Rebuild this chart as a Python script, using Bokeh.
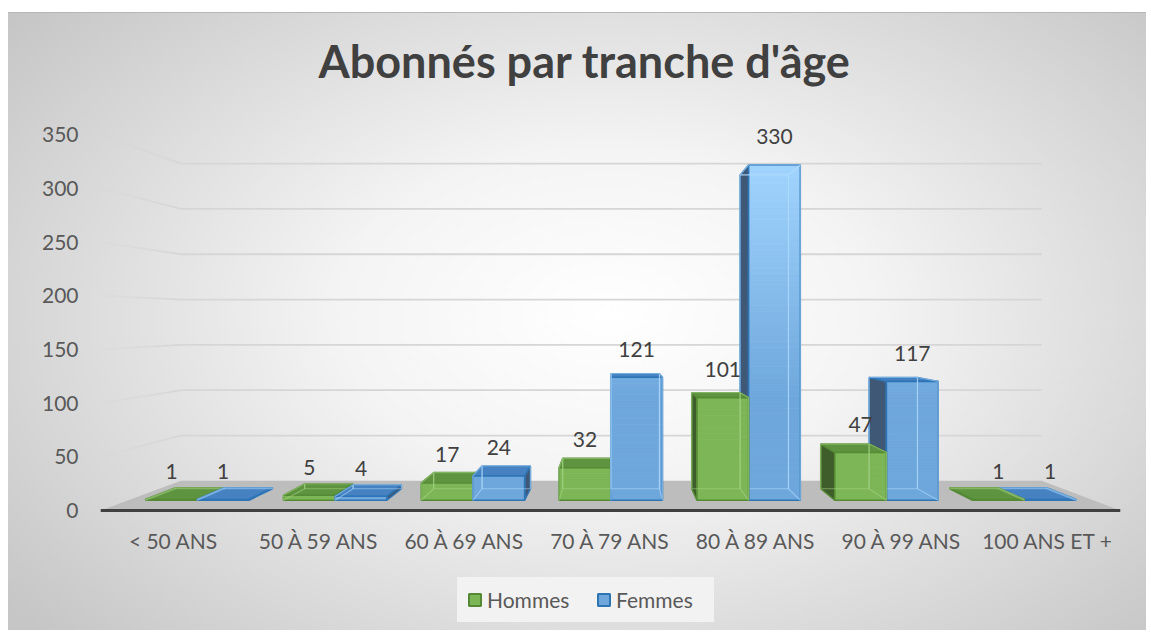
import numpy as np
from bokeh.plotting import figure
from bokeh.models import FactorRange, Range1d, FixedTicker, ColumnDataSource, Legend, LegendItem
from bokeh.embed import file_html
from bokeh.resources import INLINE
from bokeh.core.properties import value

# ---------------- data ----------------
categories = ["< 50 ANS", "50 À 59 ANS", "60 À 69 ANS", "70 À 79 ANS",
              "80 À 89 ANS", "90 À 99 ANS", "100 ANS ET +"]
hommes = [1, 5, 17, 32, 101, 47, 1]
femmes = [1, 4, 24, 121, 330, 117, 1]
series_names = ["Hommes", "Femmes"]
y_ticks = [0, 50, 100, 150, 200, 250, 300, 350]
title_text = "Abonnés par tranche d'âge"

# ---------------- 3D projection settings ----------------
XV, YV = 3.535, 177.0      # vanishing point (category units, value units)
DEPTH_K = 0.185            # perspective strength (back wall scale = 1/(1+K))
D0, D1 = 0.31, 0.70        # bar depth (front, back)
BAR_W = 0.375              # bar width in category units
NCAT = len(categories)

def proj(x, y, d):
    s = 1.0 / (1.0 + DEPTH_K * d)
    return XV + s * (x - XV), YV + s * (y - YV)

def mix(c1, c2, t):
    a = [int(c1[k:k + 2], 16) for k in (1, 3, 5)]
    b = [int(c2[k:k + 2], 16) for k in (1, 3, 5)]
    return "#%02x%02x%02x" % tuple(int(round(a[k] + (b[k] - a[k]) * t)) for k in range(3))

FONT = "Lato"

p = figure(width=1146, height=630,
           x_range=FactorRange(*categories, range_padding=0, factor_padding=0),
           y_range=Range1d(-111.7, 389.2),
           output_backend="svg", toolbar_location=None,
           min_border_left=100, min_border_right=26,
           min_border_top=92, min_border_bottom=0)
p.styles = {"background":
            "linear-gradient(#ffffff,#ffffff) 0 0 / 100% 12px no-repeat, "
            "linear-gradient(#ffffff,#ffffff) 0 0 / 8px 100% no-repeat, "
            "linear-gradient(#b6b6b6,#b6b6b6) 8px 12px / 100% 1px no-repeat, "
            "radial-gradient(ellipse 760px 470px at 53% 50%, #ffffff 0%, #f4f4f4 35%, #c6c6c6 100%)"}
p.background_fill_alpha = 0
p.border_fill_alpha = 0
p.outline_line_color = None
p.xgrid.visible = False
p.ygrid.visible = False

# title
p.title.text = title_text
p.title.text_font = FONT
p.title.text_font_style = "bold"
p.title.text_font_size = "45px"
p.title.text_color = "#404040"
p.title.align = "left"
p.title.offset = 218

# axes
p.yaxis.ticker = FixedTicker(ticks=y_ticks)
p.yaxis.axis_line_color = None
p.yaxis.major_tick_line_color = None
p.yaxis.minor_tick_line_color = None
p.yaxis.major_tick_out = 0
p.yaxis.major_label_standoff = 22
p.yaxis.major_label_text_font = FONT
p.yaxis.major_label_text_font_size = "21px"
p.yaxis.major_label_text_color = "#595959"

p.xaxis.fixed_location = 0
p.xaxis.axis_line_color = "#404040"
p.xaxis.axis_line_width = 3
p.xaxis.major_tick_line_color = None
p.xaxis.major_tick_out = 0
p.xaxis.major_label_standoff = 17
p.xaxis.major_label_text_font = FONT
p.xaxis.major_label_text_font_size = "21px"
p.xaxis.major_label_text_color = "#595959"

# ---------------- walls & floor ----------------
fx, fy = zip(proj(0, 0, 0), proj(NCAT, 0, 0), proj(NCAT, 0, 1), proj(0, 0, 1))
p.patch(list(fx), list(fy), fill_color="#bdbdbd", line_color=None)

gx, gy = [], []
for t in y_ticks[1:]:
    a, b = proj(0, t, 1), proj(NCAT, t, 1)
    gx.append([a[0], b[0]]); gy.append([a[1], b[1]])
p.multi_line(gx, gy, line_color="#d6d6d6", line_width=1.8)

# side wall lines, fading toward the front
sxs, sys_, sal = [], [], []
nseg = 8
for t in y_ticks[1:]:
    for k in range(nseg):
        a = proj(0, t, k / nseg); b = proj(0, t, (k + 1) / nseg)
        sxs.append([a[0], b[0]]); sys_.append([a[1], b[1]])
        sal.append(0.1 + 0.9 * (k + 1) / nseg)
p.multi_line(xs="xs", ys="ys", line_alpha="a", line_color="#d6d6d6", line_width=1.8,
             source=ColumnDataSource(dict(xs=sxs, ys=sys_, a=sal)))

# ---------------- 3D bars ----------------
styles = [
    dict(front="#7db656", light="#93c96c", top="#5e9440", side="#3f5d2b",
         line="#558a35", inner="#a6d686"),
    dict(front="#6ea7dc", light="#a3d6ff", top="#4682c2", side="#3f5876",
         line="#2e75b6", inner="#b0dcff"),
]
bars = []
for i in range(NCAT):
    for j, vals in enumerate([hommes, femmes]):
        x0 = i + 0.5 - BAR_W + j * BAR_W
        bars.append((x0, x0 + BAR_W, vals[i], j))
bars.sort(key=lambda b: -abs((b[0] + b[1]) / 2 - XV))

P = dict(xs=[], ys=[], fc=[], fa=[], lc=[], la=[], lw=[])
def add(pts, fc, fa, lc, la, lw=1.5):
    P["xs"].append([q[0] for q in pts]); P["ys"].append([q[1] for q in pts])
    P["fc"].append(fc); P["fa"].append(fa); P["lc"].append(lc); P["la"].append(la)
    P["lw"].append(lw)
    return len(P["xs"]) - 1

GRAD_LO, GRAD_HI = 100.0, 340.0
for x0, x1, v, j in bars:
    st = styles[j]
    c = proj
    back = [c(x0, 0, D1), c(x1, 0, D1), c(x1, v, D1), c(x0, v, D1)]
    left = [c(x0, 0, D0), c(x0, 0, D1), c(x0, v, D1), c(x0, v, D0)]
    right = [c(x1, 0, D0), c(x1, 0, D1), c(x1, v, D1), c(x1, v, D0)]
    top = [c(x0, v, D0), c(x1, v, D0), c(x1, v, D1), c(x0, v, D1)]
    front = [c(x0, 0, D0), c(x1, 0, D0), c(x1, v, D0), c(x0, v, D0)]
    hidden, vis = [back], []
    (vis if x0 > XV else hidden).append(left)
    (vis if x1 < XV else hidden).append(right)
    (vis if v < YV else hidden).append(top)
    for f in vis:
        kind = "top" if f is top else "side"
        add(f, st[kind], 1.0, st["line"], 1.0)
    # front face as vertical gradient bands
    nb = max(1, int(np.ceil(v / 6.0)))
    edges = np.linspace(0, v, nb + 1)
    for k in range(nb):
        ya, yb = edges[k], edges[k + 1]
        t = float(np.clip(((ya + yb) / 2 - GRAD_LO) / (GRAD_HI - GRAD_LO), 0, 1))
        col = mix(st["front"], st["light"], t)
        add([c(x0, ya, D0), c(x1, ya, D0), c(x1, yb, D0), c(x0, yb, D0)],
            col, 1.0, col, 1.0, 0.8)
    add(front, st["front"], 0.0, st["line"], 1.0, 1.6)
    # hidden edges seen through the translucent front
    for f in hidden:
        add(f, st["front"], 0.0, st["inner"], 0.55, 1.2)

bars_r = p.patches(xs="xs", ys="ys", fill_color="fc", fill_alpha="fa", line_color="lc",
                   line_alpha="la", line_width="lw", source=ColumnDataSource(P))

# legend swatches
P2 = dict(xs=[[], []], ys=[[], []], fc=[styles[0]["front"], styles[1]["front"]],
          lc=[styles[0]["line"], styles[1]["line"]])
sw = p.patches(xs="xs", ys="ys", fill_color="fc", line_color="lc", line_width=2,
               source=ColumnDataSource(P2))

# ---------------- data labels ----------------
lx, ly, lt = [], [], []
for i in range(NCAT):
    for j, vals in enumerate([hommes, femmes]):
        x0 = i + 0.5 - BAR_W + j * BAR_W
        q = proj(x0 + BAR_W / 2, vals[i], D0)
        lx.append(q[0]); ly.append(q[1]); lt.append(str(vals[i]))
p.text(x="x", y="y", text="t", source=ColumnDataSource(dict(x=lx, y=ly, t=lt)),
       text_align="center", text_baseline="middle", y_offset=-28,
       text_font=value(FONT), text_font_size="21px", text_color="#404040")

# ---------------- legend ----------------
legend = Legend(items=[LegendItem(label=series_names[0], renderers=[sw], index=0),
                       LegendItem(label=series_names[1], renderers=[sw], index=1)],
                orientation="horizontal", location=(357, 8),
                background_fill_color="#f2f2f2", background_fill_alpha=1,
                border_line_color="#f2f2f2", border_line_width=1,
                glyph_width=15, glyph_height=15,
                label_standoff=5, spacing=21, padding=9, margin=0,
                label_width=88, label_height=25,
                label_text_font=FONT, label_text_font_size="21px",
                label_text_color="#595959")
p.add_layout(legend)

open("out.html", "w").write(file_html(p, INLINE))
